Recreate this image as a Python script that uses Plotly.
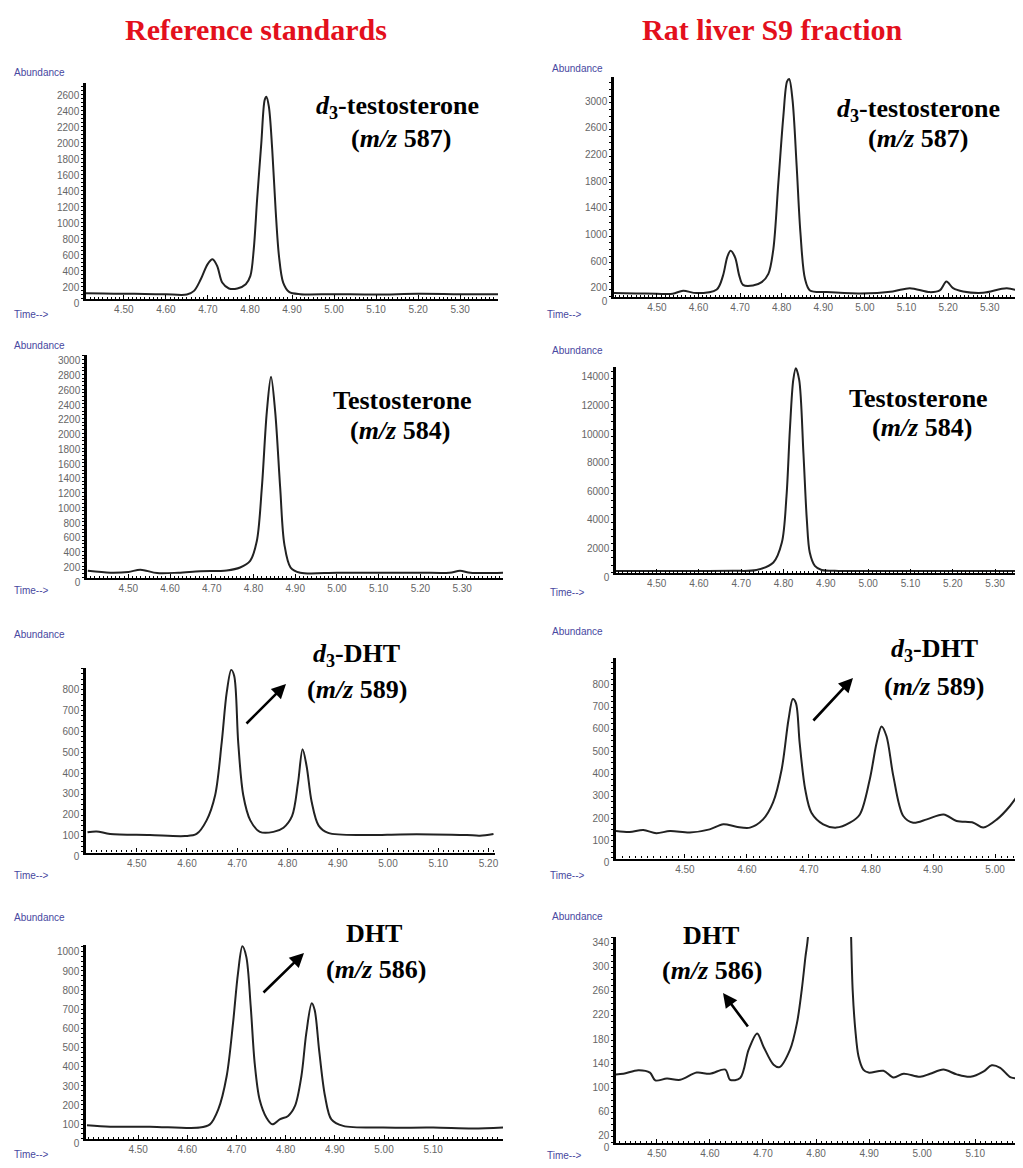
import plotly.graph_objects as go

W, H = 1023, 1168           # reference picture size
OFF = 8                     # default page margin of the html body
FW, FH = W - 2 * OFF, H - 2 * OFF

# ---------------- data (retention time in min, abundance) ----------------
tA = [4.41, 4.45, 4.50, 4.55, 4.60, 4.65, 4.667, 4.683, 4.699, 4.711, 4.722, 4.734, 4.750, 4.770, 4.790,
      4.801, 4.809, 4.817, 4.827, 4.835, 4.839, 4.845, 4.853, 4.861, 4.869, 4.879, 4.893, 4.920, 5.00,
      5.10, 5.20, 5.30, 5.39]
vA = [60, 58, 55, 52, 48, 45, 91, 236, 423, 486, 402, 195, 121, 121, 174,
      278, 610, 1233, 1938, 2478, 2519, 2394, 1855, 1108, 527, 195, 79, 50, 50,
      45, 55, 50, 50]

tB = [4.397, 4.45, 4.50, 4.538, 4.563, 4.595, 4.644, 4.659, 4.669, 4.677, 4.688, 4.698, 4.707, 4.731,
      4.752, 4.768, 4.780, 4.792, 4.804, 4.813, 4.818, 4.826, 4.836, 4.845, 4.856, 4.868, 4.908, 4.988,
      5.067, 5.108, 5.156, 5.180, 5.196, 5.212, 5.236, 5.284, 5.341, 5.373]
vB = [45, 40, 35, 35, 80, 45, 100, 308, 582, 682, 582, 308, 169, 159,
      209, 333, 706, 1701, 2696, 3219, 3254, 2945, 1950, 955, 259, 85, 60, 40,
      70, 119, 60, 85, 219, 119, 70, 50, 119, 70]

tC = [4.403, 4.457, 4.50, 4.529, 4.569, 4.62, 4.672, 4.736, 4.768, 4.792, 4.808, 4.820, 4.832, 4.842,
      4.852, 4.864, 4.874, 4.889, 4.912, 5.00, 5.10, 5.20, 5.27, 5.295, 5.32, 5.398]
vC = [85, 60, 70, 100, 55, 60, 80, 90, 130, 220, 490, 1210, 2246, 2718,
      2246, 1210, 445, 130, 60, 60, 60, 60, 60, 85, 60, 60]

tD = [4.404, 4.50, 4.60, 4.68, 4.736, 4.776, 4.796, 4.807, 4.815, 4.823, 4.829, 4.837, 4.847, 4.855,
      4.862, 4.874, 4.890, 4.93, 5.00, 5.10, 5.20, 5.30, 5.366]
vD = [80, 80, 85, 95, 150, 675, 2067, 5311, 9953, 13433, 14247, 13433, 8331, 3689,
      1371, 438, 150, 90, 85, 80, 80, 80, 80]

tE = [4.402, 4.420, 4.447, 4.526, 4.596, 4.619, 4.639, 4.656, 4.669, 4.679, 4.688, 4.694, 4.702, 4.712,
      4.726, 4.745, 4.772, 4.792, 4.809, 4.821, 4.830, 4.838, 4.848, 4.862, 4.881, 4.958, 5.024, 5.090,
      5.157, 5.183, 5.210]
vE = [93, 97, 85, 80, 75, 85, 150, 270, 520, 760, 869, 840, 520, 270,
      150, 95, 95, 115, 170, 330, 490, 410, 240, 125, 90, 80, 83, 83,
      80, 77, 85]

tF = [4.389, 4.411, 4.433, 4.454, 4.476, 4.508, 4.540, 4.562, 4.583, 4.605, 4.626, 4.642, 4.656, 4.667,
      4.674, 4.679, 4.685, 4.694, 4.704, 4.723, 4.744, 4.766, 4.782, 4.798, 4.809, 4.817, 4.825, 4.836,
      4.852, 4.868, 4.890, 4.917, 4.938, 4.965, 4.981, 5.003, 5.024, 5.043]
vF = [120, 115, 124, 110, 120, 113, 127, 150, 139, 135, 172, 247, 396, 619,
      712, 694, 515, 306, 202, 150, 135, 157, 194, 351, 515, 589, 545, 366,
      187, 157, 172, 194, 165, 157, 135, 172, 232, 306]

tG = [4.396, 4.443, 4.524, 4.625, 4.646, 4.663, 4.680, 4.693, 4.703, 4.712, 4.720, 4.729, 4.737, 4.747,
      4.761, 4.773, 4.788, 4.805, 4.819, 4.832, 4.842, 4.853, 4.859, 4.868, 4.880, 4.893, 4.917, 4.998,
      5.100, 5.181, 5.242]
vG = [69, 62, 62, 57, 74, 152, 325, 602, 861, 1003, 948, 688, 394, 204,
      109, 74, 100, 118, 170, 325, 550, 706, 671, 463, 222, 100, 66, 57,
      57, 52, 57]

tH = [4.423, 4.437, 4.465, 4.487, 4.497, 4.519, 4.544, 4.575, 4.600, 4.629, 4.638, 4.657, 4.673, 4.689,
      4.701, 4.720, 4.731, 4.751, 4.764, 4.773, 4.780, 4.785, 4.800, 4.826, 4.852, 4.866, 4.869, 4.874,
      4.880, 4.889, 4.899, 4.927, 4.946, 4.965, 4.996, 5.015, 5.040, 5.065, 5.091, 5.116, 5.131, 5.147,
      5.167, 5.185]
vH = [113, 114, 120, 116, 103, 106, 104, 116, 114, 121, 104, 107, 154, 181,
      159, 129, 125, 154, 198, 253, 308, 344, 900, 2000, 900, 344, 253, 187,
      143, 121, 116, 119, 108, 114, 109, 114, 121, 113, 109, 118, 128, 124,
      108, 107]

# tick values
xt_long = [4.50, 4.60, 4.70, 4.80, 4.90, 5.00, 5.10, 5.20, 5.30]
xt_E = [4.50, 4.60, 4.70, 4.80, 4.90, 5.00, 5.10, 5.20]
xt_F = [4.50, 4.60, 4.70, 4.80, 4.90, 5.00]
xt_G = [4.50, 4.60, 4.70, 4.80, 4.90, 5.00, 5.10]
yt_A = [0, 200, 400, 600, 800, 1000, 1200, 1400, 1600, 1800, 2000, 2200, 2400, 2600]
yt_B = [0, 200, 600, 1000, 1400, 1800, 2200, 2600, 3000]
yt_C = [0, 200, 400, 600, 800, 1000, 1200, 1400, 1600, 1800, 2000, 2200, 2400, 2600, 2800, 3000]
yt_D = [0, 2000, 4000, 6000, 8000, 10000, 12000, 14000]
yt_E = [0, 100, 200, 300, 400, 500, 600, 700, 800]
yt_F = [0, 100, 200, 300, 400, 500, 600, 700, 800, 900]
yt_G = [0, 100, 200, 300, 400, 500, 600, 700, 800, 900, 1000]
yt_H = [0, 20, 60, 100, 140, 180, 220, 260, 300, 340]

# ---------------- layout geometry (reference-picture pixels) ----------------
panels = [
    (tA, vA, xt_long, yt_A, 86, 498, 83, 299, (4.41, 5.39), 2690, 50),
    (tB, vB, xt_long, yt_B, 614, 1023, 77, 297, (4.397, 5.380), 3285, 100),
    (tC, vC, xt_long, yt_C, 87, 503, 355, 578, (4.401, 5.398), 3013, 50),
    (tD, vD, xt_long, yt_D, 616, 1023, 367, 573, (4.404, 5.366), 14338, 500),
    (tE, vE, xt_E, yt_E, 86, 495, 668, 852.5, (4.399, 5.213), 878, 25),
    (tF, vF, xt_F, yt_F, 616, 1023, 658, 858.5, (4.389, 5.045), 896, 25),
    (tG, vG, xt_G, yt_G, 86, 503, 945, 1139.3, (4.394, 5.242), 1010, 25),
    (tH, vH, xt_G, yt_H, 616, 1023, 937, 1143.3, (4.423, 5.190), 341, 10),
]


def px_x(px):
    return (px - OFF) / FW


def px_y(py):
    return 1 - (py - OFF) / FH


fig = go.Figure()
tickfont = dict(family="Liberation Sans, Arial, sans-serif", size=10, color="#666666")

for i, (t, v, xt, yt, x0, x1, yt_px, yb_px, xr, ymax, ymin_dt) in enumerate(panels):
    n = i + 1
    xa = "x" if n == 1 else f"x{n}"
    ya = "y" if n == 1 else f"y{n}"
    # clip the panel to the drawable figure width, shortening the time range accordingly
    x1c = min(x1, OFF + FW)
    xr1 = xr[0] + (x1c - x0) / (x1 - x0) * (xr[1] - xr[0])
    fig.add_trace(go.Scatter(x=t, y=v, mode="lines", xaxis=xa, yaxis=ya,
                             line=dict(color="#222222", width=2, shape="spline", smoothing=0.9),
                             showlegend=False, hoverinfo="skip"))
    xkey = "xaxis" if n == 1 else f"xaxis{n}"
    ykey = "yaxis" if n == 1 else f"yaxis{n}"
    fig.layout[xkey] = dict(
        domain=[px_x(x0), min(px_x(x1c), 1.0)], range=[xr[0], xr1], anchor=ya,
        showline=True, linecolor="black", linewidth=2.2, showgrid=False, zeroline=False,
        tickmode="array", tickvals=xt, ticktext=[f"{x:.2f}" for x in xt],
        ticks="inside", ticklen=4, tickcolor="black", tickwidth=1,
        minor=dict(dtick=0.01, ticklen=2, tickcolor="black", showgrid=False, ticks="inside"),
        tickfont=tickfont, fixedrange=True)
    fig.layout[ykey] = dict(
        domain=[px_y(yb_px), px_y(yt_px)], range=[-0.004 * ymax, ymax], anchor=xa,
        showline=True, linecolor="black", linewidth=2.5, showgrid=False, zeroline=False,
        tickmode="array", tickvals=yt, ticktext=[str(y) for y in yt],
        ticks="outside", ticklen=2, tickcolor="black", tickwidth=1,
        minor=dict(dtick=ymin_dt, ticklen=2, tickcolor="black", showgrid=False, ticks="outside"),
        tickfont=tickfont, ticklabelshift=5, ticklabeloverflow="allow", fixedrange=True)

annotations = []


def txt(text, cx, cy, size, color="black", family="Liberation Serif, Times New Roman, serif",
        xanchor="center"):
    annotations.append(dict(text=text, x=px_x(cx), y=px_y(cy), xref="paper", yref="paper",
                            xanchor=xanchor, yanchor="middle", showarrow=False,
                            font=dict(family=family, size=size, color=color)))


# column titles
txt("<b>Reference standards</b>", 256, 30, 30, color="#e3101c")
txt("<b>Rat liver S9 fraction</b>", 772, 30, 30, color="#e3101c")

# compound labels
LS = 26
txt("<b><i>d</i><sub>3</sub>-testosterone</b>", 397, 107, LS)
txt("<b>(<i>m/z</i> 587)</b>", 401, 138, LS)
txt("<b><i>d</i><sub>3</sub>-testosterone</b>", 918, 110, LS)
txt("<b>(<i>m/z</i> 587)</b>", 918, 138, LS)
txt("<b>Testosterone</b>", 402, 400, LS)
txt("<b>(<i>m/z</i> 584)</b>", 400, 430, LS)
txt("<b>Testosterone</b>", 918, 398, LS)
txt("<b>(<i>m/z</i> 584)</b>", 922, 428, LS)
txt("<b><i>d</i><sub>3</sub>-DHT</b>", 356, 655, LS)
txt("<b>(<i>m/z</i> 589)</b>", 357, 689, LS)
txt("<b><i>d</i><sub>3</sub>-DHT</b>", 934, 650, LS)
txt("<b>(<i>m/z</i> 589)</b>", 934, 686, LS)
txt("<b>DHT</b>", 374, 933, LS)
txt("<b>(<i>m/z</i> 586)</b>", 376, 969, LS)
txt("<b>DHT</b>", 711, 935, LS)
txt("<b>(<i>m/z</i> 586)</b>", 712, 970, LS)

# ChemStation axis captions
small = "Liberation Sans, Arial, sans-serif"
for (ax, ay) in [(12, 72), (550, 69), (12, 345), (550, 350), (12, 634), (550, 631), (12, 917), (550, 916)]:
    txt("Abundance", ax, ay, 10, color="#4848a0", family=small, xanchor="left")
for (ax, ay) in [(12, 314), (545, 314), (12, 590), (548, 592), (12, 875), (548, 875), (12, 1154), (545, 1155)]:
    txt("Time-->", ax, ay, 10, color="#4848a0", family=small, xanchor="left")

# arrows (head position, tail position) in reference pixels
for (hx, hy, tx, ty) in [(286, 684, 245, 725), (853, 678, 812, 722),
                         (304, 953, 262, 994), (723, 993, 749, 1028)]:
    annotations.append(dict(x=px_x(hx), y=px_y(hy), xref="paper", yref="paper",
                            ax=tx - hx, ay=ty - hy, axref="pixel", ayref="pixel",
                            showarrow=True, arrowhead=2, arrowsize=1.1, arrowwidth=2.6,
                            arrowcolor="black", text=""))

fig.update_layout(
    width=FW, height=FH, autosize=False,
    margin=dict(l=0, r=0, t=0, b=0, pad=0, autoexpand=False),
    paper_bgcolor="white", plot_bgcolor="white",
    annotations=annotations,
    showlegend=False,
)

fig.write_html("out.html")
